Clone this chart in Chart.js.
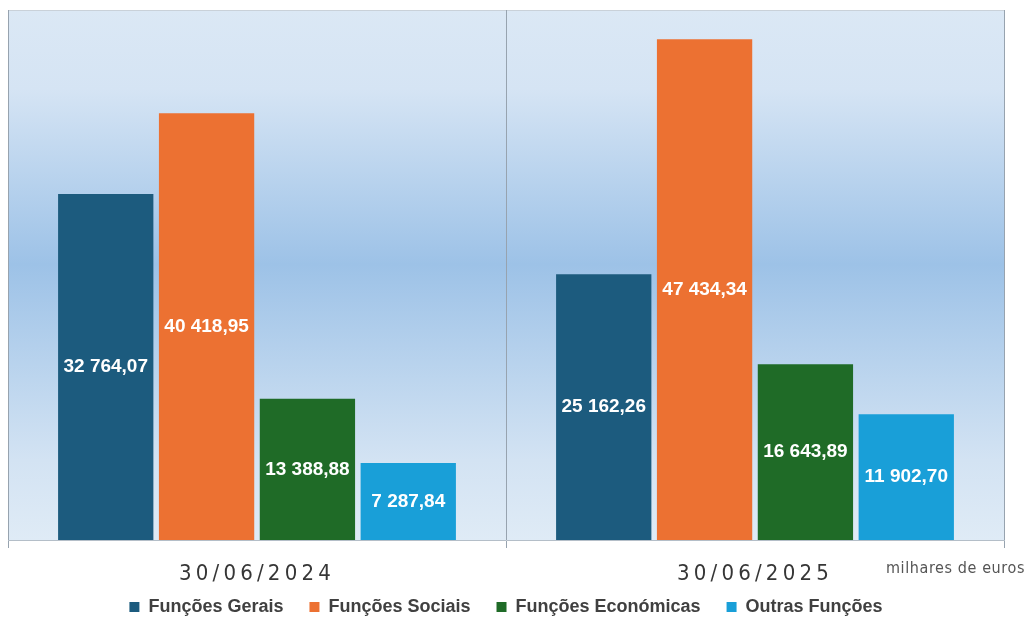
<!DOCTYPE html>
<html>
<head>
<meta charset="utf-8">
<script src="https://cdn.jsdelivr.net/npm/chart.js@4/dist/chart.umd.min.js"></script>
<style>
  html, body { margin: 0; padding: 0; background: #ffffff; }
  #wrap { width: 1026px; height: 618px; }
</style>
</head>
<body>
<div id="wrap"><canvas id="c" width="1026" height="618"></canvas></div>
<script>
const categories = ['30/06/2024', '30/06/2025'];
const seriesNames = ['Funções Gerais', 'Funções Sociais', 'Funções Económicas', 'Outras Funções'];
const funcoesGerais = [32764.07, 25162.26];
const funcoesSociais = [40418.95, 47434.34];
const funcoesEconomicas = [13388.88, 16643.89];
const outrasFuncoes = [7287.84, 11902.70];
const unitLabel = 'milhares de euros';
const seriesColors = ['#1c5b7e', '#ec7132', '#1f6b27', '#199fd8'];

const LEGEND_PAD = 26;
const LEGEND_FONT = 18;
const AXIS_H = 48;
const LEGEND_LAYOUT_H = 22;

function fmt(v) {
  const parts = v.toFixed(2).split('.');
  return parts[0].replace(/\B(?=(\d{3})+(?!\d))/g, ' ') + ',' + parts[1];
}

const bgPlugin = {
  id: 'bgPlugin',
  afterLayout(chart) {
    // let the legend draw its full padded row, centred 67px below the plot
    const lg = chart.legend;
    if (lg) {
      const full = LEGEND_FONT + 2 * LEGEND_PAD;
      const centre = chart.chartArea.bottom + 67;
      lg.top = centre - LEGEND_PAD - LEGEND_FONT / 2;
      lg.height = full;
      lg.bottom = lg.top + full;
    }
  },
  beforeDraw(chart) {
    const {ctx, chartArea: a} = chart;
    const g = ctx.createLinearGradient(0, a.top, 0, a.bottom);
    g.addColorStop(0, '#dbe8f5');
    g.addColorStop(0.15, '#d5e4f4');
    g.addColorStop(0.48, '#9dc2e7');
    g.addColorStop(0.85, '#d3e3f3');
    g.addColorStop(1, '#dfebf6');
    ctx.save();
    ctx.fillStyle = g;
    ctx.fillRect(a.left, a.top, a.right - a.left, a.bottom - a.top);
    ctx.strokeStyle = '#c9d1d9';
    ctx.lineWidth = 1;
    ctx.beginPath();
    ctx.moveTo(a.left, a.top + 0.5);
    ctx.lineTo(a.right, a.top + 0.5);
    ctx.stroke();
    ctx.restore();
  },
  afterDatasetsDraw(chart) {
    const ctx = chart.ctx;
    ctx.save();
    ctx.font = 'bold 19px "Liberation Sans", Arial, sans-serif';
    ctx.fillStyle = '#ffffff';
    ctx.textAlign = 'center';
    ctx.textBaseline = 'middle';
    chart.data.datasets.forEach((ds, di) => {
      const meta = chart.getDatasetMeta(di);
      meta.data.forEach((el, i) => {
        ctx.fillText(fmt(ds.data[i]), el.x, (el.y + el.base) / 2);
      });
    });
    ctx.restore();
    ctx.letterSpacing = '4.2px';
  },
  afterDraw(chart) {
    const {ctx} = chart;
    ctx.letterSpacing = '0.6px';
    ctx.save();
    ctx.font = '16px "Liberation Sans Narrow", "DejaVu Sans Condensed", sans-serif';
    ctx.fillStyle = '#555555';
    ctx.textAlign = 'right';
    ctx.textBaseline = 'middle';
    ctx.fillText(unitLabel, 1025, 569);
    ctx.restore();
    ctx.letterSpacing = '0px';
  }
};

const dataArrays = [funcoesGerais, funcoesSociais, funcoesEconomicas, outrasFuncoes];

const chart = new Chart(document.getElementById('c'), {
  type: 'bar',
  data: {
    labels: categories,
    datasets: seriesNames.map((name, i) => ({
      label: name,
      data: dataArrays[i],
      backgroundColor: seriesColors[i],
      borderWidth: 0,
      barPercentage: 0.945,
      categoryPercentage: 0.81
    }))
  },
  options: {
    responsive: false,
    animation: false,
    devicePixelRatio: 1,
    layout: { padding: { top: 10, left: 8, right: 22, bottom: 8 } },
    plugins: {
      tooltip: { enabled: false },
      legend: {
        position: 'bottom',
        labels: {
          boxWidth: 10,
          boxHeight: 10,
          padding: LEGEND_PAD,
          color: '#404040',
          font: { family: '"Liberation Sans", Arial, sans-serif', size: LEGEND_FONT, weight: 'bold' }
        }
      }
    },
    scales: {
      x: {
        afterFit(scale) { scale.height = AXIS_H; },
        grid: {
          offset: true,
          display: true,
          drawOnChartArea: true,
          color: '#97a3af',
          lineWidth: 1,
          tickLength: 8
        },
        border: { display: true, color: '#b4bec8' },
        ticks: {
          z: 1,
          padding: 26,
          color: '#363636',
          font: { family: '"Liberation Sans Narrow", "DejaVu Sans Condensed", sans-serif', size: 22, lineHeight: 0.01 }
        }
      },
      y: {
        display: false,
        min: 0,
        max: 50200
      }
    }
  },
  plugins: [bgPlugin]
});

// compact legend height for layout purposes
const origFit = chart.legend.fit;
chart.legend.fit = function () {
  origFit.call(this);
  this.height = LEGEND_LAYOUT_H;
};
chart.update();
</script>
</body>
</html>
